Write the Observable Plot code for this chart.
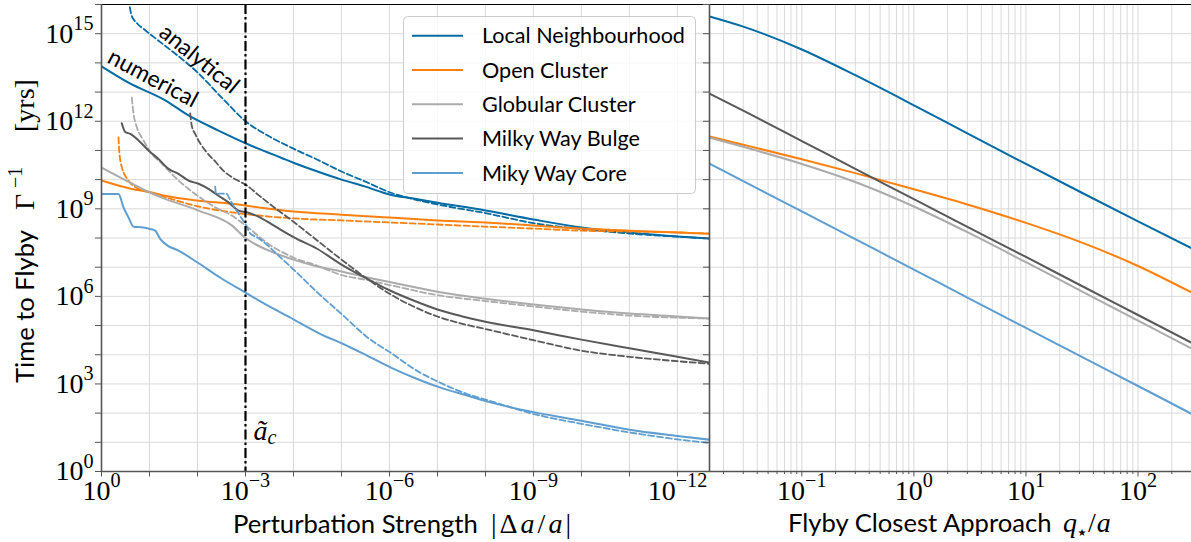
<!DOCTYPE html>
<html><head><meta charset="utf-8">
<script src="https://cdn.jsdelivr.net/npm/d3@7"></script>
<script src="https://cdn.jsdelivr.net/npm/@observablehq/plot@0.6"></script>
<style>
body{margin:0;background:#fff;}
#wrap{position:relative;width:1191px;height:542px;overflow:hidden;background:#fff;}
</style>
</head><body><div id="wrap"></div>
<script>
// ---------------- DATA ----------------
const seriesNames = ["Local Neighbourhood", "Open Cluster", "Globular Cluster", "Milky Way Bulge", "Miky Way Core"];
const seriesColors = ["#006BA4", "#FF800E", "#ABABAB", "#595959", "#5F9ED1"];

// Left panel: perturbation strength |Δa/a| vs time to flyby [yrs]
const localNumDa = [1, 2.74e-1, 4.7e-2, 1.54e-2, 3.65e-3, 9.4e-4, 5.4e-4, 1.86e-4, 1e-4, 3.16e-5, 1e-5, 3.16e-6, 1e-6, 3.16e-7, 1e-7, 1e-8, 1e-9, 1e-10, 1e-11, 1e-12, 2.15e-13];
const localNumT  = [7.6e13, 2.1e13, 5.2e12, 1.58e12, 4.8e11, 1.7e11, 1.15e11, 5.75e10, 3.8e10, 1.9e10, 1.0e10, 5.75e9, 3.1e9, 2.24e9, 1.62e9, 8.7e8, 4.3e8, 2.3e8, 1.55e8, 1.12e8, 9.5e7];
const localAnaDa = [2.57e-1, 2.37e-1, 1.8e-1, 1.21e-1, 7.5e-2, 3.16e-2, 1e-2, 3.16e-3, 1e-3, 3.16e-4, 1e-4, 3.16e-5, 1e-5, 3.16e-6, 1e-6, 3.16e-7, 1e-7, 1e-8, 1e-9, 1e-10, 1e-11, 1e-12, 2.15e-13];
const localAnaT  = [8.1e15, 4.3e15, 2.24e15, 1.29e15, 6.9e14, 2.3e14, 4.7e13, 6.6e12, 1.0e12, 3.0e11, 1.15e11, 4.8e10, 1.9e10, 8.5e9, 3.7e9, 2.14e9, 1.41e9, 7.1e8, 3.24e8, 2.04e8, 1.41e8, 1.12e8, 9.5e7];

const openNumDa = [1, 2.34e-1, 1e-1, 4.7e-2, 9.5e-3, 1.93e-3, 5.4e-4, 1e-4, 1e-5, 1e-6, 1e-7, 1e-8, 1e-9, 1e-10, 1e-11, 1e-12, 2.15e-13];
const openNumT  = [9.3e9, 4.8e9, 3.8e9, 2.8e9, 1.9e9, 1.48e9, 1.12e9, 8.1e8, 6.3e8, 5.0e8, 4.0e8, 3.4e8, 2.7e8, 2.1e8, 1.78e8, 1.55e8, 1.41e8];
const openAnaDa = [4.43e-1, 4.28e-1, 3.78e-1, 2.74e-1, 1.69e-1, 1.05e-1, 4.7e-2, 9.5e-3, 1.93e-3, 5.4e-4, 1e-4, 1e-5, 1e-6, 1e-7, 1e-8, 1e-9, 1e-10, 1e-11, 1e-12, 2.15e-13];
const openAnaT  = [2.8e11, 1.0e11, 2.7e10, 9.3e9, 4.8e9, 3.7e9, 2.5e9, 1.2e9, 7.6e8, 5.9e8, 4.7e8, 4.0e8, 3.4e8, 2.9e8, 2.45e8, 2.1e8, 1.78e8, 1.66e8, 1.55e8, 1.41e8];

const globNumDa = [1, 2.34e-1, 1e-1, 4.7e-2, 9.5e-3, 1.93e-3, 1e-3, 3.16e-4, 1e-4, 3.16e-5, 1e-5, 3.16e-6, 1e-6, 1e-7, 1e-8, 1e-9, 1e-10, 1e-11, 1e-12, 2.15e-13];
const globNumT  = [2.57e10, 7.4e9, 3.7e9, 2.2e9, 8.7e8, 2.7e8, 1.0e8, 3.6e7, 1.82e7, 1.05e7, 7.1e6, 4.6e6, 3.1e6, 1.45e6, 8.3e5, 5.25e5, 3.55e5, 2.57e5, 2.04e5, 1.74e5];
const globAnaDa = [2.34e-1, 2.15e-1, 1.84e-1, 1.33e-1, 8.95e-2, 5.5e-2, 2.92e-2, 1.54e-2, 8.1e-3, 4.28e-3, 1.93e-3, 1e-3, 3.16e-4, 1e-4, 3.16e-5, 1e-5, 3.16e-6, 1e-6, 1e-7, 1e-8, 1e-9, 1e-10, 1e-11, 1e-12, 2.15e-13];
const globAnaT  = [6.5e12, 1.82e12, 6.3e11, 2.2e11, 7.6e10, 3.5e10, 1.2e10, 4.8e9, 2.2e9, 1.12e9, 5.9e8, 2.7e8, 5.9e7, 2.14e7, 1.12e7, 5.4e6, 3.7e6, 2.45e6, 1.1e6, 6.9e5, 4.5e5, 3.0e5, 2.2e5, 1.86e5, 1.74e5];

const bulgeNumDa = [3.78e-1, 3.21e-1, 2.52e-1, 1.69e-1, 1.05e-1, 6.5e-2, 4.0e-2, 2.49e-2, 1.54e-2, 9.5e-3, 5.9e-3, 3.65e-3, 2.26e-3, 1.4e-3, 9.4e-4, 5.4e-4, 3.16e-4, 1.72e-4, 1e-4, 3.16e-5, 1e-5, 3.16e-6, 1e-6, 3.16e-7, 1e-7, 3.16e-8, 1e-8, 1e-9, 1e-10, 1e-11, 1e-12, 2.15e-13];
const bulgeNumT  = [8.5e11, 4.3e11, 3.7e11, 2.2e11, 1.0e11, 5.1e10, 2.34e10, 1.58e10, 9.3e9, 7.2e9, 4.8e9, 2.8e9, 1.66e9, 8.7e8, 7.6e8, 5.4e8, 3.3e8, 1.78e8, 1.07e8, 4.2e7, 1.23e7, 4.3e6, 1.62e6, 7.2e5, 3.55e5, 2.1e5, 1.35e5, 6.9e4, 3.3e4, 1.66e4, 8.5e3, 5.4e3];
const bulgeAnaDa = [1.42e-2, 1.32e-2, 1.12e-2, 6.9e-3, 4.28e-3, 2.87e-3, 1.93e-3, 1.19e-3, 9.4e-4, 5.4e-4, 3.16e-4, 1e-4, 3.16e-5, 1e-5, 3.16e-6, 1e-6, 3.16e-7, 1e-7, 3.16e-8, 1e-8, 1e-9, 1e-10, 1e-11, 1e-12, 2.15e-13];
const bulgeAnaT  = [1.86e12, 7.2e11, 3.7e11, 1.0e11, 4.2e10, 2.0e10, 1.22e10, 7.9e9, 6.3e9, 3.0e9, 1.48e9, 3.6e8, 8.1e7, 1.82e7, 4.4e6, 1.23e6, 4.5e5, 2.04e5, 1.17e5, 7.6e4, 3.16e4, 1.38e4, 8.5e3, 6.0e3, 4.9e3];

const coreNumDa = [1, 4.43e-1, 3.48e-1, 2.74e-1, 2.16e-1, 1.45e-1, 9.7e-2, 7.6e-2, 6.0e-2, 4.2e-2, 2.49e-2, 1e-2, 3.16e-3, 1e-3, 4.6e-4, 9.4e-5, 2.74e-5, 9.2e-6, 2.92e-6, 9.1e-7, 2.65e-7, 8.95e-8, 2.4e-8, 7.9e-9, 8.3e-10, 1e-10, 1e-11, 1e-12, 2.15e-13];
const coreNumT  = [3.2e9, 3.2e9, 1.12e9, 5.1e8, 2.45e8, 2.34e8, 2.04e8, 1.78e8, 9.3e7, 5.5e7, 3.7e7, 1.45e7, 4.1e6, 1.35e6, 6.3e5, 1.55e5, 5.1e4, 2.34e4, 9.3e3, 3.55e3, 1.48e3, 7.6e2, 4.0e2, 2.34e2, 1.02e2, 55, 27, 16.6, 12.3];
const coreAnaDa = [4.28e-3, 4.12e-3, 2.49e-3, 2.05e-3, 1.4e-3, 1e-3, 7.9e-4, 5.7e-4, 1.72e-4, 9.4e-5, 3.2e-5, 9.2e-6, 2.92e-6, 9.1e-7, 2.65e-7, 8.95e-8, 2.4e-8, 7.9e-9, 8.3e-10, 1e-10, 1e-12, 2.15e-13];
const coreAnaT  = [5.75e9, 3.3e9, 3.3e9, 1.9e9, 6.9e8, 2.9e8, 1.41e8, 1.05e8, 1.91e7, 7.6e6, 1.38e6, 2.2e5, 4.0e4, 1.12e4, 2.8e3, 1.12e3, 4.5e2, 2.6e2, 87, 43, 12.6, 9.5];

// Right panel: flyby closest approach q*/a vs time to flyby [yrs]
const qValues    = [0.015, 0.03, 0.1, 0.3, 1, 3, 10, 30, 100, 300];
const localQT    = [3.9e15, 1.75e15, 2.88e14, 3.78e13, 3.52e12, 3.83e11, 3.44e10, 3.92e9, 3.74e8, 4.49e7];
const openQT     = [3.0e11, 1.57e11, 5.0e10, 1.67e10, 4.7e9, 1.41e9, 3.3e8, 7.5e7, 1.1e7, 1.36e6];
const globQT     = [2.75e11, 1.33e11, 3.45e10, 8.3e9, 1.2e9, 1.58e8, 1.48e7, 1.64e6, 1.48e5, 1.64e4];
const bulgeQT    = [8.9e12, 2.3e12, 2.1e11, 2.34e10, 2.14e9, 2.4e8, 2.24e7, 2.5e6, 2.3e5, 2.6e4];
const coreQT     = [3.55e10, 8.9e9, 8.1e8, 9.1e7, 8.3e6, 9.1e5, 8.3e4, 9.3e3, 8.5e2, 95];

// Ticks
const yTicks = [1, 1e1, 1e2, 1e3, 1e4, 1e5, 1e6, 1e7, 1e8, 1e9, 1e10, 1e11, 1e12, 1e13, 1e14, 1e15, 1e16];
const yLabelTicks = [1, 1e3, 1e6, 1e9, 1e12, 1e15];
const daTicks = [1, 1e-1, 1e-2, 1e-3, 1e-4, 1e-5, 1e-6, 1e-7, 1e-8, 1e-9, 1e-10, 1e-11, 1e-12];
const daLabelTicks = [1, 1e-3, 1e-6, 1e-9, 1e-12];
const qMajorTicks = [0.1, 1, 10, 100];
const qMinorTicks = [0.02,0.03,0.04,0.05,0.06,0.07,0.08,0.09, 0.2,0.3,0.4,0.5,0.6,0.7,0.8,0.9, 2,3,4,5,6,7,8,9, 20,30,40,50,60,70,80,90, 200,300];
const criticalDa = 1e-3;

// ---------------- HELPERS ----------------
const SANS = "Lato";
const SERIF = "Liberation Serif";
const gridColor = "#dadada";
const spineColor = "#555555";
const ctx = document.createElement("canvas").getContext("2d");
function fit(text, family, target, style = "") {
  ctx.font = `${style} 100px "${family}"`;
  return 100 * target / ctx.measureText(text).width;
}
const rows = (xs, ys) => xs.map((x, i) => ({x, y: ys[i]}));
const pow10 = d => {
  const e = Math.round(Math.log10(d));
  return "10^" + (e < 0 ? "\u2212" + (-e) : String(e));
};
function superscripts(svg) {
  d3.select(svg).selectAll("text").each(function () {
    const t = this.textContent;
    const i = t.indexOf("^");
    if (i < 0) return;
    this.textContent = t.slice(0, i);
    d3.select(this).append("tspan").attr("font-size", "0.72em").attr("dy", "-0.62em").text(t.slice(i + 1));
  });
}
const annoSize = (fit("analytical", SANS, 97) + fit("numerical", SANS, 96)) / 2;

// ---------------- LEFT PANEL ----------------
const leftLines = [
  [localNumDa, localNumT, 0, false], [localAnaDa, localAnaT, 0, true],
  [openNumDa, openNumT, 1, false], [openAnaDa, openAnaT, 1, true],
  [globNumDa, globNumT, 2, false], [globAnaDa, globAnaT, 2, true],
  [bulgeNumDa, bulgeNumT, 3, false], [bulgeAnaDa, bulgeAnaT, 3, true],
  [coreNumDa, coreNumT, 4, false], [coreAnaDa, coreAnaT, 4, true]
];

const left = Plot.plot({
  width: 709, height: 542,
  marginLeft: 101, marginRight: 0, marginTop: 4, marginBottom: 71,
  x: {type: "log", domain: [1, 2.15e-13], label: null},
  y: {type: "log", domain: [1, 1e16], label: null},
  style: {fontFamily: SERIF, fontSize: "28px", background: "transparent", overflow: "visible", color: "black"},
  marks: [
    Plot.ruleY(yTicks, {stroke: gridColor, strokeWidth: 1}),
    Plot.ruleX(daTicks, {stroke: gridColor, strokeWidth: 1}),
    ...leftLines.map(([xs, ys, k, dashed]) => Plot.line(rows(xs, ys), {
      x: "x", y: "y", stroke: seriesColors[k], strokeWidth: dashed ? 1.8 : 2,
      strokeDasharray: dashed ? "6,3" : null, curve: "monotone-x", clip: true
    })),
    Plot.ruleX([criticalDa], {stroke: "black", strokeWidth: 2.2, strokeDasharray: "10,3,2.5,3"}),
    Plot.text([{x: 8.5e-2, y: 2.9e13}], {x: "x", y: "y", text: () => "numerical", rotate: 28, fontFamily: SANS, fontSize: annoSize, fill: "black"}),
    Plot.text([{x: 9.2e-3, y: 1.35e14}], {x: "x", y: "y", text: () => "analytical", rotate: 39, fontFamily: SANS, fontSize: annoSize, fill: "black"}),
    Plot.text([{x: criticalDa, y: 25}], {x: "x", y: "y", text: () => "ã", dx: 8, textAnchor: "start", fontFamily: SERIF, fontStyle: "italic", fontSize: 28, fill: "black"}),
    Plot.text([{x: criticalDa, y: 25}], {x: "x", y: "y", text: () => "c", dx: 22, dy: 6.5, textAnchor: "start", fontFamily: SERIF, fontStyle: "italic", fontSize: 20, fill: "black"}),
    Plot.ruleY([1e16], {stroke: "black", strokeWidth: 1.2}),
    Plot.ruleX([1], {stroke: spineColor, strokeWidth: 1.6}),
    Plot.ruleY([1], {stroke: spineColor, strokeWidth: 1.6}),
    Plot.axisX({ticks: daTicks, tickSize: 5.5, tickPadding: 3, label: null, stroke: spineColor, fill: "black",
      tickFormat: d => daLabelTicks.some(v => Math.abs(Math.log10(v) - Math.log10(d)) < 1e-6) ? pow10(d) : ""}),
    Plot.axisY({ticks: yTicks, tickSize: 6, tickPadding: 2, label: null, stroke: spineColor, fill: "black",
      tickFormat: d => yLabelTicks.some(v => Math.abs(Math.log10(v) - Math.log10(d)) < 1e-6) ? pow10(d) : ""})
  ]
});
superscripts(left);

// ---------------- RIGHT PANEL ----------------
const rightSeries = [localQT, openQT, globQT, bulgeQT, coreQT];
const right = Plot.plot({
  width: 491, height: 542,
  marginLeft: 9, marginRight: 0, marginTop: 4, marginBottom: 71,
  x: {type: "log", domain: [0.015, 300], label: null},
  y: {type: "log", domain: [1, 1e16], label: null},
  style: {fontFamily: SERIF, fontSize: "28px", background: "transparent", overflow: "visible", color: "black"},
  marks: [
    Plot.ruleY(yTicks, {stroke: gridColor, strokeWidth: 1}),
    Plot.ruleX(qMinorTicks, {stroke: gridColor, strokeWidth: 1}),
    Plot.ruleX(qMajorTicks, {stroke: gridColor, strokeWidth: 1}),
    ...rightSeries.map((ys, k) => Plot.line(rows(qValues, ys), {x: "x", y: "y", stroke: seriesColors[k], strokeWidth: 2, curve: "monotone-x", clip: true})),
    Plot.ruleY([1e16], {stroke: "black", strokeWidth: 1.2}),
    Plot.ruleX([0.015], {stroke: spineColor, strokeWidth: 1.6}),
    Plot.ruleY([1], {stroke: spineColor, strokeWidth: 1.6}),
    Plot.axisX({ticks: qMinorTicks, tickSize: 3, tickFormat: () => "", label: null, stroke: spineColor}),
    Plot.axisX({ticks: qMajorTicks, tickSize: 5.5, tickPadding: 3, tickFormat: pow10, label: null, stroke: spineColor, fill: "black"}),
    Plot.axisY({ticks: yTicks, tickSize: 6, tickFormat: () => "", label: null, stroke: spineColor})
  ]
});
superscripts(right);

// ---------------- ASSEMBLY ----------------
const wrap = document.getElementById("wrap");
for (const [svg, x] of [[left, 0], [right, 700]]) {
  svg.style.position = "absolute";
  svg.style.left = x + "px";
  svg.style.top = "0px";
  wrap.appendChild(svg);
}

const ov = d3.create("svg").attr("width", 1191).attr("height", 542)
  .style("position", "absolute").style("left", "0px").style("top", "0px").style("overflow", "visible");

// y label
const yl = ov.append("text").attr("transform", "translate(34,383) rotate(-90)").attr("fill", "black");
yl.append("tspan").attr("x", 0).attr("font-family", SANS).attr("font-size", fit("Time to Flyby", SANS, 153)).text("Time to Flyby");
yl.append("tspan").attr("x", 173).attr("font-family", SERIF).attr("font-size", 28).text("Γ");
yl.append("tspan").attr("x", 195).attr("dy", -12).attr("font-family", SERIF).attr("font-size", 20).text("\u22121");
yl.append("tspan").attr("x", 251).attr("dy", 12).attr("font-family", SERIF).attr("font-size", 28).text("[yrs]");

// x labels
ov.append("text").attr("x", 233).attr("y", 533).attr("font-family", SANS)
  .attr("font-size", fit("Perturbation Strength", SANS, 245)).text("Perturbation Strength");
const m1 = ov.append("text").attr("x", 491).attr("y", 533).attr("font-family", SERIF).attr("font-size", 28)
  .attr("textLength", 80).attr("lengthAdjust", "spacing");
m1.append("tspan").text("|Δ"); m1.append("tspan").attr("font-style", "italic").text("a");
m1.append("tspan").text("/"); m1.append("tspan").attr("font-style", "italic").text("a"); m1.append("tspan").text("|");

ov.append("text").attr("x", 788).attr("y", 532).attr("font-family", SANS)
  .attr("font-size", fit("Flyby Closest Approach", SANS, 265)).text("Flyby Closest Approach");
const m2 = ov.append("text").attr("x", 1063).attr("y", 532).attr("font-family", SERIF).attr("font-size", 28);
m2.append("tspan").attr("font-style", "italic").text("q");
m2.append("tspan").attr("font-family", "DejaVu Sans").attr("font-size", 10).attr("dy", 4).attr("dx", 0.5).text("\u2605");
m2.append("tspan").attr("dy", -4).attr("dx", 1.5).text("/");
m2.append("tspan").attr("font-style", "italic").attr("dx", 1).text("a");

// legend
const legendSize = fit("Local Neighbourhood", SANS, 203);
const lg = ov.append("g");
lg.append("rect").attr("x", 403.5).attr("y", 16.5).attr("width", 292).attr("height", 177).attr("rx", 4)
  .attr("fill", "white").attr("fill-opacity", 0.8).attr("stroke", "#cccccc");
seriesNames.forEach((name, i) => {
  const y = 35.7 + i * 34.3;
  lg.append("line").attr("x1", 412).attr("x2", 463).attr("y1", y).attr("y2", y)
    .attr("stroke", seriesColors[i]).attr("stroke-width", 2);
  lg.append("text").attr("x", 482).attr("y", y + 0.36 * legendSize).attr("font-family", SANS)
    .attr("font-size", legendSize).attr("fill", "black").text(name);
});

wrap.appendChild(ov.node());
</script>
</body></html>
